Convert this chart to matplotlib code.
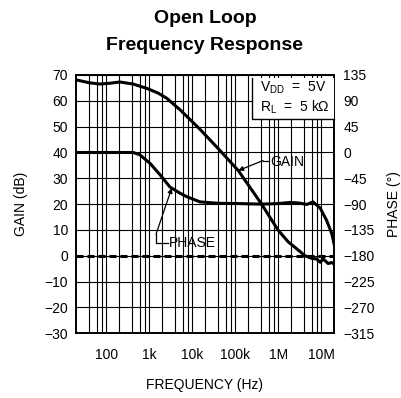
import numpy as np
import matplotlib
matplotlib.use("Agg")
import matplotlib.pyplot as plt
from matplotlib.ticker import LogLocator, NullFormatter
from matplotlib.transforms import ScaledTranslation, IdentityTransform
from matplotlib.patches import Rectangle

plt.rcParams['font.family'] = ['Liberation Sans', 'DejaVu Sans']
plt.rcParams['mathtext.default'] = 'regular'

# ---- data (Hz, dB, degrees)
gain_freq = [10, 20, 35, 60, 103, 210, 440, 800, 1270, 2600, 7500, 20e3, 58.5e3,
             204e3, 490e3, 835e3, 2.1e6, 3.0e6, 3.9e6, 4.7e6, 5.5e6, 7.2e6, 8.7e6, 1e7]
gain_db = [68.1, 67.0, 66.5, 66.8, 67.3, 66.5, 64.8, 63.0, 61.0, 56.5, 49.0, 41.5, 33.0,
           20.0, 10.0, 5.5, 0.0, -1.0, -1.2, -2.5, -1.2, -3.0, -2.6, -3.2]

phase_freq = [10, 100, 210, 300, 520, 890, 1500, 2600, 3700, 7500, 20e3, 64e3, 200e3,
              500e3, 930e3, 1.5e6, 2.3e6, 3.2e6, 4.7e6, 6.6e6, 8.7e6, 1e7]
phase_deg = [0, 0, 0, -4, -19, -39, -60, -71, -77, -86, -88.5, -89, -90,
             -89, -87, -88, -90.5, -86, -97, -118, -141, -161]

freq_ticks = [1e2, 1e3, 1e4, 1e5, 1e6, 1e7]
freq_labels = ['100', '1k', '10k', '100k', '1M', '10M']
gain_ticks = list(range(-30, 71, 10))
phase_ticks = list(range(-315, 136, 45))

W, H = 401, 398
fig = plt.figure(figsize=(W / 100, H / 100), dpi=100)
ax = fig.add_axes([76.3 / W, 1 - 333.3 / H, 258 / W, 258.3 / H])

ax.set_xscale('log')
ax.set_xlim(10, 1e7)
ax.set_ylim(-30, 70)
ax.set_xticks(freq_ticks, freq_labels)
ax.xaxis.set_minor_locator(LogLocator(base=10, subs=[2, 3, 4, 5], numticks=50))
ax.xaxis.set_minor_formatter(NullFormatter())
ax.set_yticks(gain_ticks)
ax.tick_params(which='both', length=0, labelsize=10)
ax.tick_params(axis='x', pad=10.6)
ax.tick_params(axis='y', pad=5.8)
for lab in ax.get_xticklabels():
    lab.set_transform(lab.get_transform() + ScaledTranslation(-0.13, 0, fig.dpi_scale_trans))

ax.grid(True, which='both', axis='x', color='k', lw=0.8)
ax.grid(True, which='major', axis='y', color='k', lw=0.8)
for s in ax.spines.values():
    s.set_linewidth(1.2)

ax2 = ax.twinx()
ax2.set_ylim(-315, 135)
ax2.set_yticks(phase_ticks)
ax2.tick_params(length=0, labelsize=10, pad=6.5)
for s in ax2.spines.values():
    s.set_linewidth(1.2)

# 0 dB / -180 deg reference
ref, = ax.plot([10, 1e7], [0, 0], color='k', lw=2.2, solid_capstyle='butt')
ref.set_dashes([2.3, 1.3])

ax.plot(gain_freq, gain_db, color='k', lw=2.2, solid_joinstyle='round')
ax2.plot(phase_freq, phase_deg, color='k', lw=2.2, solid_joinstyle='round')

# condition box in the upper right corner
ax2.add_patch(Rectangle((0.681, 0.830), 0.319, 0.16, transform=ax2.transAxes,
                        facecolor='white', edgecolor='none', zorder=4, clip_on=False))
ax2.plot([0.681, 0.681, 1.0], [0.99, 0.830, 0.830], transform=ax2.transAxes,
         color='k', lw=1.0, zorder=5, clip_on=False)
ax2.text(0.712, 0.935, r'$V_{DD}$  =  5V', transform=ax2.transAxes, fontsize=10,
         va='baseline', ha='left', zorder=6)
ax2.text(0.712, 0.857, r'$R_{L}$  =  5 k$\Omega$', transform=ax2.transAxes, fontsize=10,
         va='baseline', ha='left', zorder=6)

# curve callouts, laid out in figure pixels from a point on each curve
def callout(axis, f, val, bends, text_xy, text):
    tip = axis.transData.transform((f, val))
    pts = [tip + np.array(b) for b in bends]
    xs = [p[0] for p in pts]
    ys = [p[1] for p in pts]
    fig.add_artist(plt.Line2D(xs, ys, color='k', lw=0.9, transform=IdentityTransform()))
    ax.annotate('', xy=tip, xycoords='figure pixels', xytext=pts[-1],
                textcoords='figure pixels',
                arrowprops=dict(arrowstyle='-|>', color='k', lw=0.9,
                                shrinkA=0, shrinkB=0, mutation_scale=7))
    tx = tip + np.array(text_xy)
    ax.annotate(text, xy=tx, xycoords='figure pixels', fontsize=10,
                ha='left', va='baseline')

f_gain = 58.5e3
callout(ax, f_gain, np.interp(np.log10(f_gain), np.log10(gain_freq), gain_db),
        [(30.7, 10), (24.7, 10)], (32, 5), 'GAIN')
f_phase = 1660
callout(ax2, f_phase, np.interp(np.log10(f_phase), np.log10(phase_freq), phase_deg),
        [(-3.7, -55), (-15.7, -55), (-15.7, -46)], (-2.5, -59), 'PHASE')

fig.text(205 / W, 1 - 23.3 / H, 'Open Loop', ha='center', va='baseline',
         fontsize=14, fontweight='bold')
fig.text(205 / W, 1 - 50.5 / H, 'Frequency Response', ha='center', va='baseline',
         fontsize=14, fontweight='bold')
fig.text(21 / W, 1 - 204 / H, 'GAIN (dB)', rotation=90, ha='center', va='center', fontsize=10)
fig.text(394 / W, 1 - 204 / H, 'PHASE (°)', rotation=90, ha='center', va='center', fontsize=10)
fig.text(205 / W, 1 - 385 / H, 'FREQUENCY (Hz)', ha='center', va='center', fontsize=10)

fig.savefig('out.png', dpi=100)
